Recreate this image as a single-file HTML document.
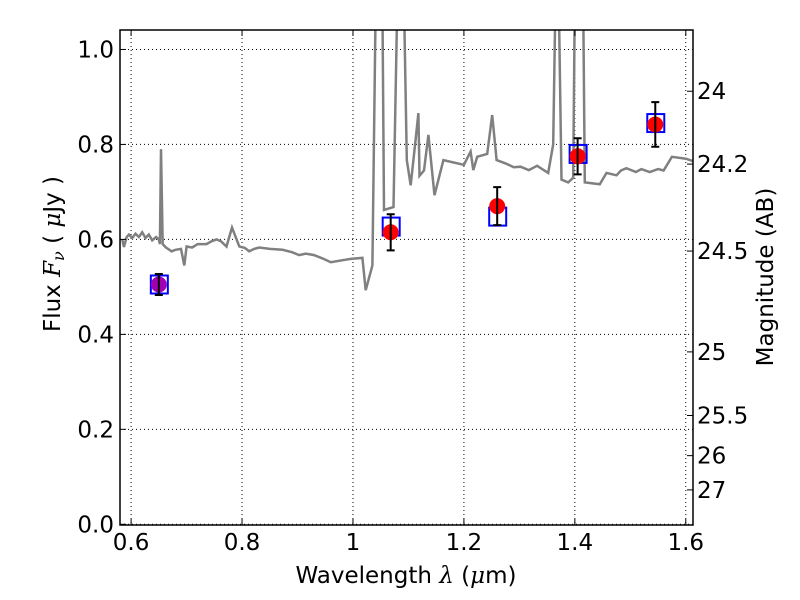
<!DOCTYPE html>
<html><head><meta charset="utf-8"><style>
body{margin:0;background:#fff;}
svg{display:block;font-family:"DejaVu Sans","Liberation Sans",sans-serif;}
</style></head><body>
<svg id="chart" width="800" height="600"></svg>
<script>
const specLam=[0.584,0.587,0.592,0.596,0.602,0.608,0.614,0.62,0.626,0.632,0.638,0.645,0.650,0.652,0.654,0.657,0.663,0.673,0.68,0.69,0.696,0.70,0.71,0.72,0.736,0.745,0.754,0.762,0.772,0.782,0.795,0.805,0.813,0.822,0.831,0.85,0.873,0.89,0.903,0.915,0.93,0.945,0.96,0.98,0.996,1.017,1.023,1.035,1.041,1.045,1.053,1.056,1.073,1.08,1.085,1.092,1.097,1.104,1.112,1.118,1.12,1.128,1.136,1.147,1.163,1.2,1.212,1.217,1.224,1.242,1.251,1.259,1.275,1.29,1.302,1.317,1.332,1.352,1.361,1.365,1.371,1.376,1.388,1.397,1.400,1.405,1.415,1.418,1.445,1.457,1.475,1.483,1.493,1.51,1.52,1.535,1.55,1.56,1.575,1.6,1.613];
const specFlux=[0.6,0.584,0.605,0.61,0.603,0.612,0.605,0.615,0.603,0.61,0.598,0.605,0.6,0.59,0.79,0.59,0.583,0.575,0.578,0.58,0.545,0.585,0.583,0.59,0.59,0.596,0.6,0.596,0.585,0.625,0.585,0.582,0.575,0.58,0.583,0.58,0.578,0.573,0.567,0.57,0.567,0.56,0.552,0.556,0.559,0.561,0.493,0.545,1.1,1.1,1.1,0.662,0.668,1.1,1.1,1.1,0.767,0.714,0.8,0.866,0.734,0.745,0.82,0.693,0.767,0.757,0.785,0.746,0.774,0.78,0.862,0.767,0.76,0.752,0.753,0.746,0.755,0.74,0.8,1.1,1.1,0.726,0.72,0.73,1.1,1.1,1.1,0.72,0.716,0.74,0.735,0.745,0.75,0.742,0.748,0.742,0.748,0.745,0.774,0.77,0.765];
const photLam=[0.65,1.068,1.26,1.405,1.545];
const photFlux=[0.505,0.615,0.67,0.775,0.842];
const photErr=[0.022,0.038,0.04,0.038,0.047];
const modelFlux=[0.505,0.627,0.648,0.78,0.845];
const xTicks=[0.6,0.8,1.0,1.2,1.4,1.6];
const xTickLabels=["0.6","0.8","1","1.2","1.4","1.6"];
const yTicks=[0,0.2,0.4,0.6,0.8,1.0];
const yTickLabels=["0.0","0.2","0.4","0.6","0.8","1.0"];
const magTicks=[24,24.2,24.5,25,25.5,26,26.75];
const magTickLabels=["24","24.2","24.5","25","25.5","26","27"];

const L=120,R=693,T=30,B=525;
const XMIN=0.580,XMAX=1.613,YMIN=-0.0015,YMAX=1.041;
const X=v=>L+(v-XMIN)/(XMAX-XMIN)*(R-L);
const Y=v=>B-(v-YMIN)/(YMAX-YMIN)*(B-T);
const NS="http://www.w3.org/2000/svg";
const svg=document.getElementById('chart');
const FS='23px';
function mk(t,a,p){const e=document.createElementNS(NS,t);for(const k in a)e.setAttribute(k,a[k]);(p||svg).appendChild(e);return e;}

const defs=mk('defs',{});const cp=mk('clipPath',{id:'clip'},defs);mk('rect',{x:L,y:T,width:R-L,height:B-T},cp);

xTicks.forEach((v,i)=>{const g=mk('line',{x1:X(v),x2:X(v),y1:T,y2:B,stroke:'#000','stroke-width':1,'stroke-dasharray':'1,3'});

});
yTicks.forEach((v,i)=>{const g=mk('line',{x1:L,x2:R,y1:Y(v),y2:Y(v),stroke:'#000','stroke-width':1,'stroke-dasharray':'1,3'});

});

const pts=specLam.map((l,i)=>X(l).toFixed(1)+','+Y(specFlux[i]).toFixed(1)).join(' ');
const sp=mk('polyline',{points:pts,fill:'none',stroke:'#808080','stroke-width':2.5,'clip-path':'url(#clip)'});



modelFlux.forEach((f,i)=>{const r=mk('rect',{x:X(photLam[i])-8,y:Y(f)-9,width:17,height:18,fill:'none',stroke:'#0000ff','stroke-width':2});

});
photFlux.forEach((f,i)=>{const c=mk('circle',{cx:X(photLam[i]),cy:Y(f),r:8,fill:i==0?'#a000b0':'#ff0000'});


const x=X(photLam[i]),y1=Y(f+photErr[i]),y2=Y(f-photErr[i]);
const g=mk('path',{d:`M${x},${y1}V${y2}M${x-4},${y1}H${x+4}M${x-4},${y2}H${x+4}`,stroke:'#000','stroke-width':2,fill:'none'});

});

const fr=mk('rect',{x:L,y:T,width:R-L,height:B-T,fill:'none',stroke:'#000','stroke-width':1.5});



xTicks.forEach((v,i)=>{mk('line',{x1:X(v),x2:X(v),y1:B,y2:B-6,stroke:'#000'});mk('line',{x1:X(v),x2:X(v),y1:T,y2:T+6,stroke:'#000'});
const t=mk('text',{x:X(v),y:B+25,'text-anchor':'middle','font-size':FS});t.textContent=xTickLabels[i];

});
yTicks.forEach((v,i)=>{mk('line',{x1:L,x2:L+6,y1:Y(v),y2:Y(v),stroke:'#000'});
const t=mk('text',{x:L-6,y:Y(v)+8,'text-anchor':'end','font-size':FS});t.textContent=yTickLabels[i];

});
magTicks.forEach((m,i)=>{const f=Math.pow(10,(23.9-m)/2.5);mk('line',{x1:R,x2:R-6,y1:Y(f),y2:Y(f),stroke:'#000'});
const t=mk('text',{x:R+4,y:Y(f)+8,'font-size':FS});t.textContent=magTickLabels[i];

});

const xt=mk('text',{x:406,y:583,'text-anchor':'middle','font-size':FS});
xt.innerHTML='Wavelength  <tspan font-family="DejaVu Serif" font-style="italic">λ</tspan> (<tspan font-family="DejaVu Serif" font-style="italic">μ</tspan>m)';


const yt=mk('text',{x:0,y:0,'text-anchor':'middle','font-size':FS,transform:'translate(60,254) rotate(-90)'});
yt.innerHTML='Flux  <tspan font-family="DejaVu Serif" font-style="italic">F</tspan><tspan font-family="DejaVu Serif" font-style="italic" font-size="16px" dy="4">ν</tspan><tspan dy="-4">  (  </tspan><tspan font-family="DejaVu Serif" font-style="italic">μ</tspan>Jy )';


const rt=mk('text',{x:0,y:0,'text-anchor':'middle','font-size':FS,transform:'translate(773,277) rotate(-90)'});
rt.textContent='Magnitude (AB)';


</script>
</body></html>
